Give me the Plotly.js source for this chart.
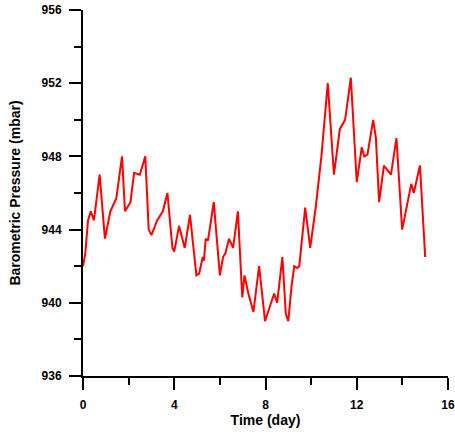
<!DOCTYPE html>
<html>
<head>
<meta charset="utf-8">
<script src="https://cdn.plot.ly/plotly-3.0.1.min.js"></script>
<style>html,body{margin:0;padding:0;background:#fff;}#chart{width:455px;height:434px;}</style>
</head>
<body>
<div id="chart"></div>
<script>
const timeDay = [0, 0.1, 0.22, 0.34, 0.48, 0.73, 0.96, 1.2, 1.46, 1.71, 1.84, 2.08, 2.24, 2.49, 2.73, 2.88, 3.0, 3.25, 3.5, 3.7, 3.92, 4.0, 4.21, 4.46, 4.69, 4.97, 5.09, 5.25, 5.3, 5.38, 5.48, 5.73, 6.0, 6.14, 6.24, 6.4, 6.58, 6.79, 6.98, 7.08, 7.25, 7.47, 7.72, 7.98, 8.19, 8.38, 8.51, 8.74, 8.89, 9.0, 9.14, 9.26, 9.39, 9.48, 9.74, 9.96, 10.2, 10.45, 10.73, 11.0, 11.26, 11.49, 11.74, 12.0, 12.22, 12.33, 12.47, 12.72, 12.84, 12.98, 13.19, 13.5, 13.74, 13.99, 14.39, 14.5, 14.77, 15.0];
const pressure = [942.0, 942.7, 944.5, 945.0, 944.5, 947.0, 943.5, 945.0, 945.7, 948.0, 945.0, 945.5, 947.1, 947.0, 948.0, 944.0, 943.7, 944.5, 945.0, 946.0, 943.0, 942.8, 944.2, 943.0, 944.8, 941.5, 941.6, 942.5, 942.3, 943.5, 943.4, 945.5, 941.5, 942.5, 942.7, 943.5, 943.0, 945.0, 940.3, 941.5, 940.5, 939.5, 942.0, 939.0, 939.8, 940.5, 940.0, 942.5, 939.4, 939.0, 940.9, 942.0, 941.9, 942.0, 945.2, 943.0, 945.2, 948.0, 952.0, 947.0, 949.5, 950.0, 952.3, 946.6, 948.5, 948.0, 948.1, 950.0, 949.0, 945.5, 947.5, 947.0, 949.0, 944.0, 946.5, 946.0, 947.5, 942.5];
const xTicks = [0, 4, 8, 12, 16];
const yTicks = [936, 940, 944, 948, 952, 956];

const tickFont = {family: 'Liberation Sans, Arial, sans-serif', size: 12, color: '#000', weight: 'bold'};
const titleFont = {family: 'Liberation Sans, Arial, sans-serif', size: 14, color: '#000', weight: 'bold'};

Plotly.newPlot('chart', [{
  x: timeDay, y: pressure, type: 'scatter', mode: 'lines',
  line: {color: '#ff0000', width: 2}
}], {
  width: 455, height: 434,
  margin: {l: 83, r: 7, t: 10, b: 58},
  paper_bgcolor: '#fff', plot_bgcolor: '#fff',
  showlegend: false,
  xaxis: {
    range: [0, 16], tickvals: xTicks, ticktext: xTicks.map(String),
    showgrid: false, zeroline: false, showline: true, linecolor: '#000', linewidth: 2,
    ticks: 'outside', ticklen: 12, tickwidth: 2, tickcolor: '#000',
    minor: {dtick: 2, tick0: 0, ticks: 'outside', ticklen: 7, tickwidth: 2, tickcolor: '#000', showgrid: false},
    tickfont: tickFont, ticklabelstandoff: 5,
    title: {text: 'Time (day)', font: titleFont, standoff: 2}
  },
  yaxis: {
    range: [936, 956], tickvals: yTicks, ticktext: yTicks.map(String),
    showgrid: false, zeroline: false, showline: true, linecolor: '#000', linewidth: 2,
    ticks: 'outside', ticklen: 12, tickwidth: 2, tickcolor: '#000',
    minor: {dtick: 2, tick0: 936, ticks: 'outside', ticklen: 7, tickwidth: 2, tickcolor: '#000', showgrid: false},
    tickfont: tickFont, ticklabelstandoff: 5,
    title: {text: 'Barometric Pressure (mbar)', font: titleFont, standoff: 18}
  }
}, {displayModeBar: false, staticPlot: true});
</script>
</body>
</html>
